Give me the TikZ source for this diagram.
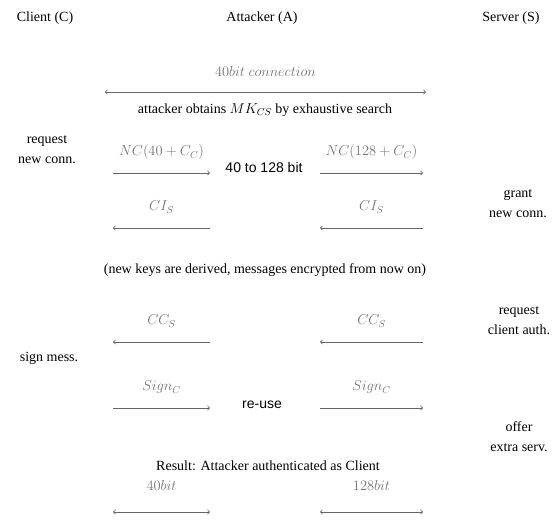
\documentclass[tikz,border=0pt]{standalone}
\usepackage[no-math]{fontspec}
\setmainfont{Liberation Serif}
\setsansfont{Liberation Sans}

\begin{document}
\begin{tikzpicture}[x=1pt,y=-1pt,draw=black!60,line width=0.8pt,
    font=\fontsize{14}{20}\selectfont]
    \tikzstyle{party}=[inner sep=0pt]
    \tikzstyle{side}=[align=center, inner sep=0pt]
    \tikzstyle{note}=[inner sep=0pt]
    \tikzstyle{sans note}=[note, font=\fontsize{14}{20}\sffamily]
    \tikzstyle{msg}=[text=black!55, inner sep=0pt, anchor=base, yshift=17pt]

    \useasboundingbox (0,0) rectangle (552,521);

    % Draw the parties
    \node[party] (C) at (45,18) {Client (C)};
    \node[party] (A) at (262,18) {Attacker (A)};
    \node[party] (S) at (511,18) {Server (S)};

    % Draw the side remarks of client and server
    \node[side] (C-req) at (47,150) {request\\new conn.};
    \node[side] (C-sig) at (49,358) {sign mess.};
    \node[side] (S-grt) at (518,204) {grant\\new conn.};
    \node[side] (S-aut) at (519,321) {request\\client auth.};
    \node[side] (S-off) at (519,437) {offer\\extra serv.};

    % Draw the notes of the attacker
    \node[note] (A-mk) at (265,110) {attacker obtains $MK_{CS}$ by exhaustive search};
    \node[sans note] (A-up) at (264,167) {40 to 128 bit};
    \node[note] (A-key) at (265,270) {(new keys are derived, messages encrypted from now on)};
    \node[sans note] (A-use) at (262,405) {re-use};
    \node[note] (A-res) at (268,466) {Result: Attacker authenticated as Client};

    % Arrow ends, left and right of the attacker
    \coordinate (T-a) at (105,92);
    \coordinate (T-b) at (426,92);
    \foreach \name / \y in {nc/173, ci/228, cc/342, sg/408, bt/512}{
      \coordinate (L-\name-a) at (113,\y);
      \coordinate (L-\name-b) at (210,\y);
      \coordinate (R-\name-a) at (320,\y);
      \coordinate (R-\name-b) at (423,\y);
    }

    % Draw the messages
    \draw[<->] (T-a) -- node[msg, yshift=-2pt]{$40bit\ connection$} (T-b);
    \foreach \name / \tip / \lmsg / \rmsg in
        {nc/->/NC(40+C_C)/NC(128+C_C), ci/<-/CI_S/CI_S,
         cc/<-/CC_S/CC_S, sg/->/Sign_C/Sign_C}{
      \draw[\tip] (L-\name-a) -- node[msg]{$\lmsg$} (L-\name-b);
      \draw[\tip] (R-\name-a) -- node[msg]{$\rmsg$} (R-\name-b);
    }
    \draw[<->] (L-bt-a) -- node[msg, yshift=5pt]{$40bit$} (L-bt-b);
    \draw[<->] (R-bt-a) -- node[msg, yshift=5pt]{$128bit$} (R-bt-b);
\end{tikzpicture}
\end{document}
